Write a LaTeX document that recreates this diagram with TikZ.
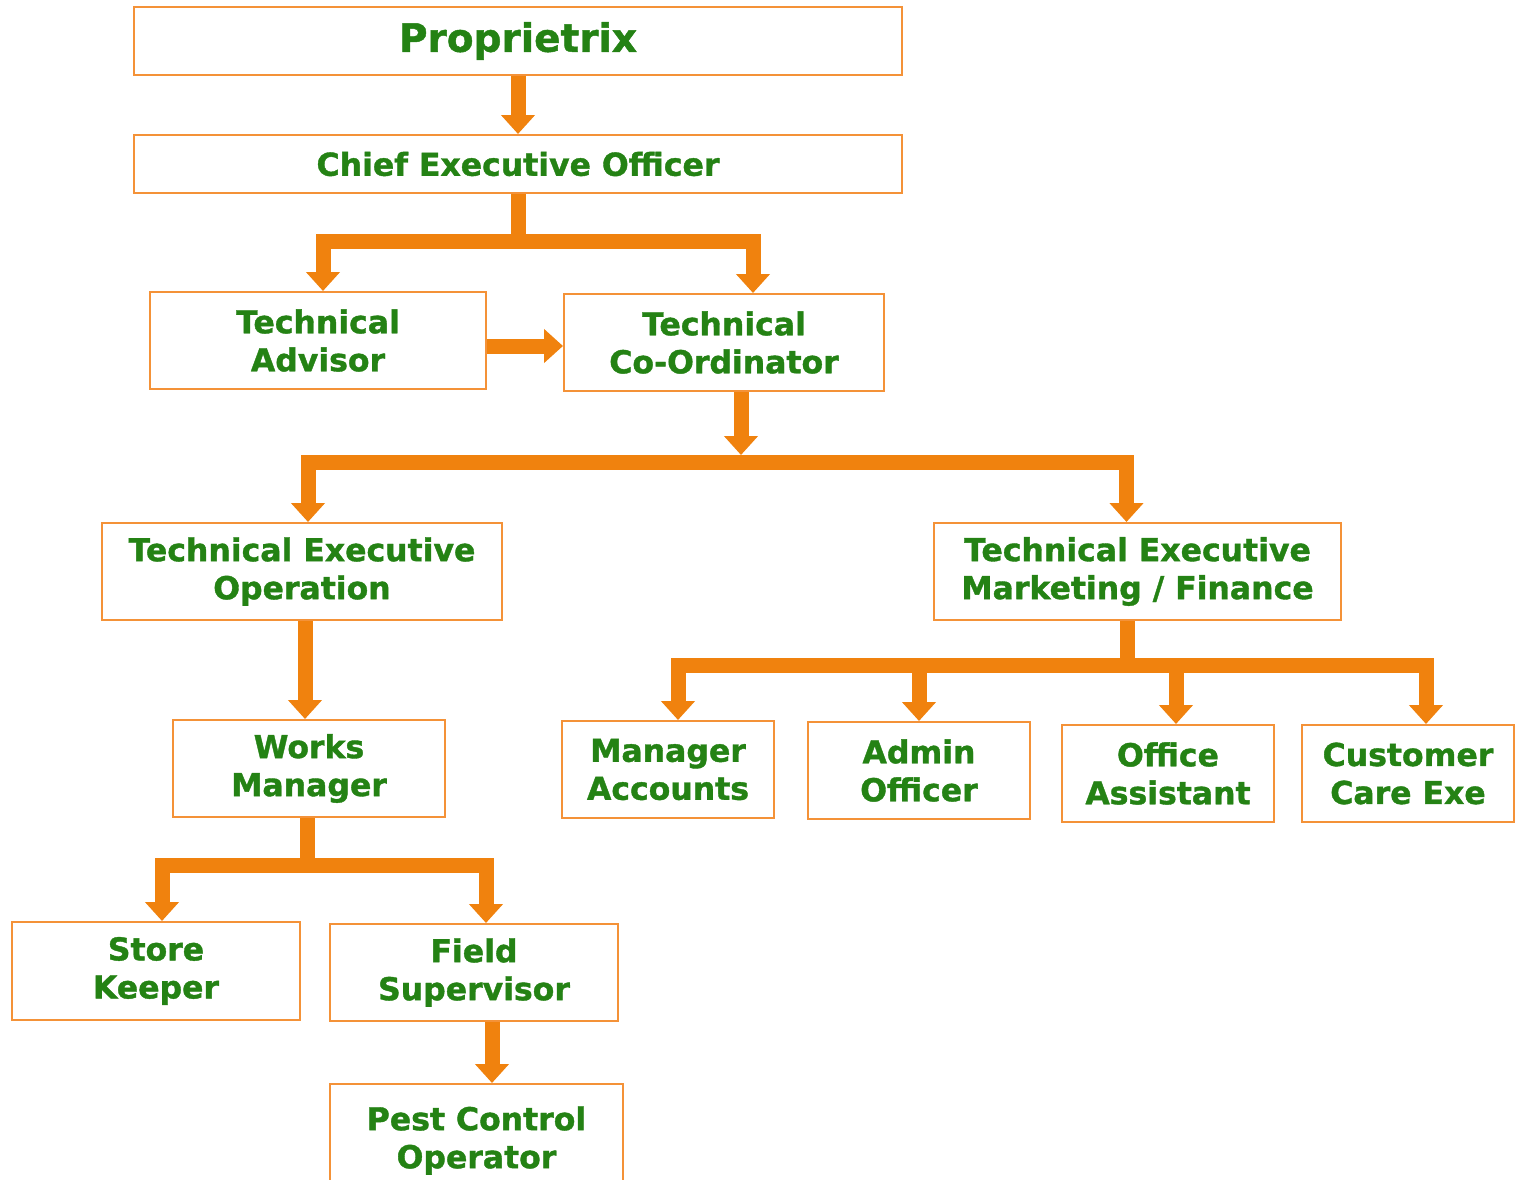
\documentclass[tikz,border=0pt]{standalone}
\usepackage{fontspec}
\setmainfont[BoldFeatures={FakeBold=1.2}]{DejaVu Sans}
\usetikzlibrary{arrows.meta}
\definecolor{connC}{RGB}{240,130,14}
\definecolor{boxC}{RGB}{244,146,56}
\definecolor{txtC}{RGB}{36,130,20}
\begin{document}
\begin{tikzpicture}[x=1pt,y=-1pt,
  box/.style={draw=boxC, line width=2pt, fill=white, inner sep=0pt, align=center,
    text=txtC, font=\bfseries\fontsize{31.5}{38}\selectfont},
  conn/.style={draw=connC, line width=15pt, line join=miter,
    -{Triangle[width=33pt,length=19pt]}},
  bar/.style={draw=connC, line width=15pt, line join=miter,
    {Triangle[width=33pt,length=19pt]}-{Triangle[width=33pt,length=19pt]}},
  trunk/.style={draw=connC, line width=15pt}]
\useasboundingbox (0,0) rectangle (1521,1179);
% nodes
\node[box, minimum width=768pt, minimum height=68pt, font=\bfseries\fontsize{39}{46}\selectfont] (prop) at (518,41) {Proprietrix};
\node[box, minimum width=768pt, minimum height=58pt] (ceo) at (518,164) {Chief Executive Officer};
\node[box, minimum width=336pt, minimum height=97pt] (ta) at (318,340.5) {Technical\\Advisor};
\node[box, minimum width=320pt, minimum height=97pt] (tc) at (724,342.5) {Technical\\Co-Ordinator};
\node[box, minimum width=400pt, minimum height=97pt] (teo) at (302,571.5) {Technical Executive\\Operation};
\node[box, minimum width=407pt, minimum height=97pt] (tem) at (1137.5,571.5) {Technical Executive\\Marketing / Finance};
\node[box, minimum width=272pt, minimum height=97pt] (wm) at (309,768.5) {Works\\Manager};
\node[box, minimum width=212pt, minimum height=97pt] (ma) at (668,769.5) {Manager\\Accounts};
\node[box, minimum width=222pt, minimum height=97pt] (ao) at (919,770.5) {Admin\\Officer};
\node[box, minimum width=212pt, minimum height=97pt] (oa) at (1168,773.5) {Office\\Assistant};
\node[box, minimum width=212pt, minimum height=97pt] (cc) at (1408,773.5) {Customer\\Care Exe};
\node[box, minimum width=288pt, minimum height=98pt] (sk) at (156,971) {Store\\Keeper};
\node[box, minimum width=288pt, minimum height=97pt] (fs) at (474,972.5) {Field\\Supervisor};
\node[box, minimum width=293pt, minimum height=113pt] (pco) at (476.5,1140.5) {Pest Control\\Operator};
% junction coordinates
\coordinate (j1) at (518,241);
\coordinate (j2) at (741,462.5);
\coordinate (j2a) at (741,455);
\coordinate (j3) at (1127,665);
\coordinate (j4) at (307,865);
% connectors
\draw[conn] (prop.south) -- (ceo.north);
\draw[trunk] (ceo.south) -- (j1);
\draw[bar] ([xshift=5pt]ta.north) |- (j1) -| ([xshift=29pt]tc.north);
\draw[conn] ([yshift=-5.5pt]ta.east) -- ([yshift=-5.5pt]ta.east -| tc.west);
\draw[conn] ([xshift=17pt]tc.south) -- (j2a);
\draw[bar] ([xshift=6pt]teo.north) |- (j2) -| ([xshift=-11pt]tem.north);
\draw[conn] ([xshift=3pt]teo.south) -- ([xshift=3pt]teo.south |- wm.north);
\draw[trunk] ([xshift=-10.5pt]tem.south) -- (j3);
\draw[bar] ([xshift=10pt]ma.north) |- (j3) -| ([xshift=18pt]cc.north);
\draw[conn] (ao.north |- j3) -- (ao.north);
\draw[conn] ([xshift=8pt]oa.north |- j3) -- ([xshift=8pt]oa.north);
\draw[trunk] ([xshift=-2pt]wm.south) -- (j4);
\draw[bar] ([xshift=6pt]sk.north) |- (j4) -| ([xshift=12pt]fs.north);
\draw[conn] ([xshift=18pt]fs.south) -- ([xshift=18pt]fs.south |- pco.north);
\end{tikzpicture}
\end{document}
